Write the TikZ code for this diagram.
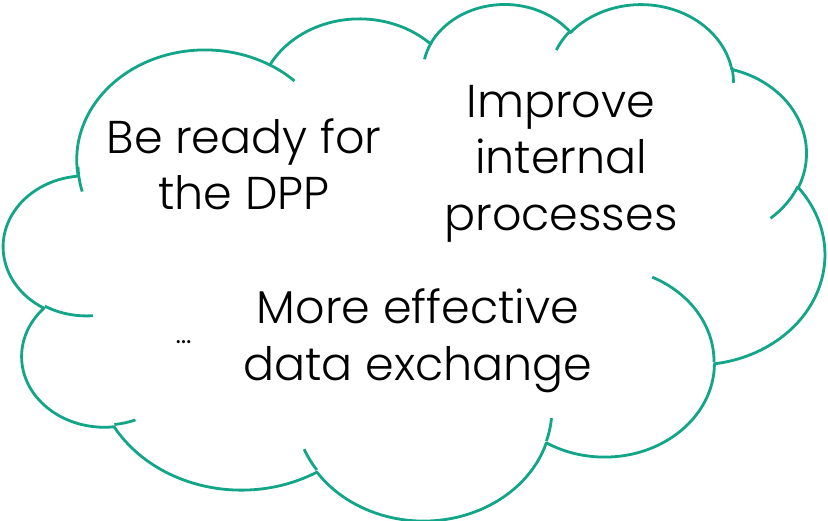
\documentclass[tikz,border=0pt]{standalone}
\usepackage{fontspec}
\setmainfont{Poppins}[UprightFont={* Light}]
\definecolor{cloudgreen}{RGB}{18,165,136}
\newcommand\cldang[4]{%
  \pgfmathsetmacro\cldS{atan2((#1)*sin(#3),(#2)*cos(#3))}%
  \pgfmathsetmacro\cldE{\cldS+Mod(atan2((#1)*sin((#3)+(#4)),(#2)*cos((#3)+(#4)))-\cldS,360)}%
}
\tikzset{
  cloudline/.style={draw=cloudgreen, line width=2.8pt, line join=round},
  cloudtext/.style={anchor=base, inner sep=0pt, font=\fontsize{46}{55}\selectfont, text=black},
  dotstext/.style={anchor=base, inner sep=0pt, font=\fontsize{30}{36}\selectfont, text=black}
}
\begin{document}
\begin{tikzpicture}[x=1pt,y=-1pt]
\useasboundingbox (0,0) rectangle (828,520);
\fill[white] (0,0) rectangle (828,520);
\begin{scope}[shift={(3.8pt,-2.8pt)}, x={(1.9pt,0pt)}, y={(0pt,-1.1953pt)}]
  % main outline
  \draw[cloudline] (39.00,143.70)
    \pgfextra{\cldang{67.53}{91.90}{-190.4875}{123.7805}} arc[x radius=67.53, y radius=91.90, start angle=\cldS, end angle=\cldE]
    \pgfextra{\cldang{53.33}{72.67}{-144.1024}{89.9452}} arc[x radius=53.33, y radius=72.67, start angle=\cldS, end angle=\cldE]
    \pgfextra{\cldang{43.65}{59.45}{-145.8079}{99.7230}} arc[x radius=43.65, y radius=59.45, start angle=\cldS, end angle=\cldE]
    \pgfextra{\cldang{48.57}{65.95}{-130.9861}{117.2417}} arc[x radius=48.57, y radius=65.95, start angle=\cldS, end angle=\cldE]
    \pgfextra{\cldang{53.33}{72.73}{-78.7089}{109.0269}} arc[x radius=53.33, y radius=72.73, start angle=\cldS, end angle=\cldE]
    \pgfextra{\cldang{67.75}{92.20}{-46.2673}{130.2690}} arc[x radius=67.75, y radius=92.20, start angle=\cldS, end angle=\cldE]
    \pgfextra{\cldang{57.85}{78.67}{0.6250}{114.0333}} arc[x radius=57.85, y radius=78.67, start angle=\cldS, end angle=\cldE]
    \pgfextra{\cldang{67.52}{92.15}{22.4516}{115.1726}} arc[x radius=67.52, y radius=92.15, start angle=\cldS, end angle=\cldE]
    \pgfextra{\cldang{77.20}{105.43}{66.2426}{75.7110}} arc[x radius=77.20, y radius=105.43, start angle=\cldS, end angle=\cldE]
    \pgfextra{\cldang{43.60}{59.18}{-274.9421}{146.7356}} arc[x radius=43.60, y radius=59.18, start angle=\cldS, end angle=\cldE]
    \pgfextra{\cldang{43.45}{59.45}{-246.8285}{152.5189}} arc[x radius=43.45, y radius=59.45, start angle=\cldS, end angle=\cldE]
    -- cycle;
  % inner tails
  \draw[cloudline] (46.93,261.77) \pgfextra{\cldang{43.45}{59.45}{86.7420}{26.4295}} arc[x radius=43.45, y radius=59.45, start angle=\cldS, end angle=\cldE];
  \draw[cloudline] (69.28,348.99) \pgfextra{\cldang{43.60}{59.18}{73.6105}{11.4475}} arc[x radius=43.60, y radius=59.18, start angle=\cldS, end angle=\cldE];
  \draw[cloudline] (164.78,390.90) \pgfextra{\cldang{67.52}{92.15}{137.6242}{14.0811}} arc[x radius=67.52, y radius=92.15, start angle=\cldS, end angle=\cldE];
  \draw[cloudline] (288.27,347.51) \pgfextra{\cldang{67.52}{92.15}{6.4533}{15.9984}} arc[x radius=67.52, y radius=92.15, start angle=\cldS, end angle=\cldE];
  \draw[cloudline] (341.29,229.54) \pgfextra{\cldang{57.85}{78.67}{-70.2924}{70.9174}} arc[x radius=57.85, y radius=78.67, start angle=\cldS, end angle=\cldE];
  \draw[cloudline] (417.98,153.54) \pgfextra{\cldang{53.33}{72.73}{30.3180}{27.7515}} arc[x radius=53.33, y radius=72.73, start angle=\cldS, end angle=\cldE];
  \draw[cloudline] (383.24,54.26) \pgfextra{\cldang{48.57}{65.95}{-13.7443}{14.8589}} arc[x radius=48.57, y radius=65.95, start angle=\cldS, end angle=\cldE];
  \draw[cloudline] (290.78,39.52) \pgfextra{\cldang{48.57}{65.95}{-149.1815}{18.1954}} arc[x radius=48.57, y radius=65.95, start angle=\cldS, end angle=\cldE];
  \draw[cloudline] (221.41,47.20) \pgfextra{\cldang{43.65}{59.45}{-163.4943}{17.6864}} arc[x radius=43.65, y radius=59.45, start angle=\cldS, end angle=\cldE];
  \draw[cloudline] (140.00,51.92) \pgfextra{\cldang{67.53}{91.90}{-66.7070}{12.3194}} arc[x radius=67.53, y radius=91.90, start angle=\cldS, end angle=\cldE];
  \draw[cloudline] (41.27,157.89) \pgfextra{\cldang{67.53}{91.90}{160.2146}{17.4932}} arc[x radius=67.53, y radius=91.90, start angle=\cldS, end angle=\cldE];
\end{scope}
% texts
\node[cloudtext] (ready1) at (244,153) {Be ready for};
\node[cloudtext] (ready2) at (244,209) {the DPP};
\node[cloudtext] (impr1) at (561,117) {Improve};
\node[cloudtext] (impr2) at (561,173) {internal};
\node[cloudtext] (impr3) at (561,230) {processes};
\node[cloudtext] (data1) at (418,323) {More effective};
\node[cloudtext] (data2) at (418,380) {data exchange};
\node[dotstext] (dots) at (183.5,343) {…};
\end{tikzpicture}
\end{document}
